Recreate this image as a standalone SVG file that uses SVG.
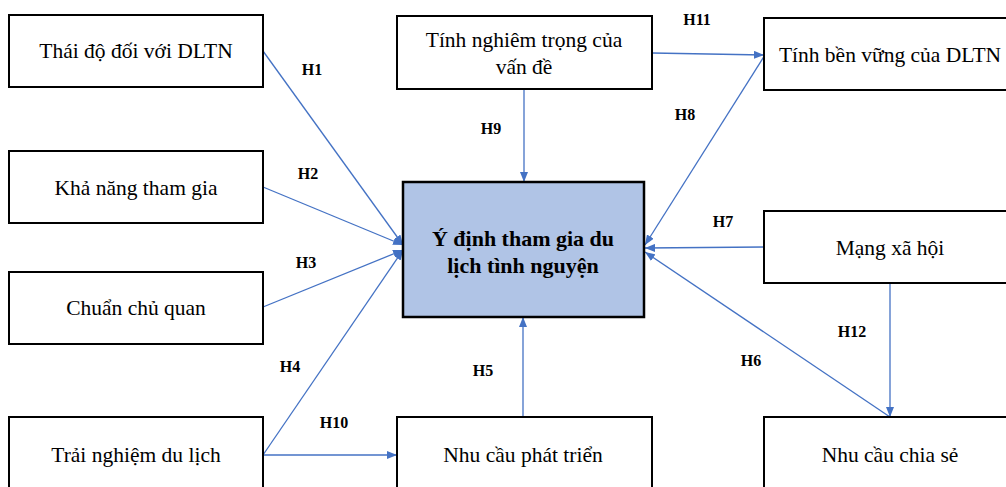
<svg xmlns="http://www.w3.org/2000/svg" width="1006" height="487" viewBox="0 0 1006 487">
<style>
.box{fill:#fff;stroke:#000;stroke-width:2}
.main{fill:#B0C4E6;stroke:#000;stroke-width:2.5}
.t{font-family:"Liberation Serif","Times New Roman",serif;font-size:21.5px;fill:#000;text-anchor:middle;dominant-baseline:central}
.tb{font-family:"Liberation Serif","Times New Roman",serif;font-size:22px;font-weight:bold;fill:#000;text-anchor:middle;dominant-baseline:central}
.lbl{font-family:"Liberation Serif","Times New Roman",serif;font-size:16px;font-weight:bold;fill:#000;text-anchor:middle;dominant-baseline:central}
.c{stroke:#4472C4;stroke-width:1.3;fill:none;marker-end:url(#ah)}
</style>
<defs>
<marker id="ah" markerWidth="10" markerHeight="8" refX="10" refY="4" orient="auto" markerUnits="userSpaceOnUse">
<path d="M0,0 L10,4 L0,8 z" fill="#4472C4"/>
</marker>
</defs>
<rect width="1006" height="487" fill="#fff"/>
<g id="connectors">
<line class="c" x1="263" y1="51" x2="403" y2="245"/>
<line class="c" x1="263" y1="187" x2="403" y2="245"/>
<line class="c" x1="263" y1="307" x2="403" y2="250"/>
<line class="c" x1="263" y1="455" x2="403" y2="250"/>
<line class="c" x1="263" y1="455" x2="397" y2="455"/>
<line class="c" x1="524" y1="89" x2="524" y2="182"/>
<line class="c" x1="523" y1="417" x2="523" y2="317"/>
<line class="c" x1="652" y1="53" x2="764" y2="55"/>
<line class="c" x1="765" y1="55" x2="645" y2="245"/>
<line class="c" x1="764" y1="247" x2="645" y2="248"/>
<line class="c" x1="890" y1="417" x2="645" y2="252"/>
<line class="c" x1="890" y1="283" x2="890" y2="417"/>
<text class="lbl" x="312" y="69">H1</text>
<text class="lbl" x="308" y="173">H2</text>
<text class="lbl" x="306" y="262">H3</text>
<text class="lbl" x="290" y="366">H4</text>
<text class="lbl" x="334" y="422">H10</text>
<text class="lbl" x="483" y="370">H5</text>
<text class="lbl" x="491" y="128">H9</text>
<text class="lbl" x="697" y="19">H11</text>
<text class="lbl" x="685" y="114">H8</text>
<text class="lbl" x="723" y="221">H7</text>
<text class="lbl" x="852" y="331">H12</text>
<text class="lbl" x="751" y="360">H6</text>
</g>
<g id="n1"><rect class="box" x="9" y="15" width="254" height="72"/><text class="t" x="136" y="51">Thái độ đối với DLTN</text></g>
<g id="n2"><rect class="box" x="9" y="151" width="254" height="72"/><text class="t" x="136" y="188">Khả năng tham gia</text></g>
<g id="n3"><rect class="box" x="9" y="272" width="254" height="72"/><text class="t" x="136" y="308">Chuẩn chủ quan</text></g>
<g id="n4"><rect class="box" x="9" y="417" width="254" height="80"/><text class="t" x="136" y="455">Trải nghiệm du lịch</text></g>
<g id="n5"><rect class="box" x="397" y="16" width="255" height="73"/><text class="t" x="524" y="40">Tính nghiêm trọng của</text><text class="t" x="524" y="67">vấn đề</text></g>
<g id="n6"><rect class="box" x="764" y="18" width="260" height="72"/><text class="t" x="890" y="55">Tính bền vững của DLTN</text></g>
<g id="center"><rect class="main" x="403" y="182" width="241" height="135"/><text class="tb" x="523" y="238">Ý định tham gia du</text><text class="tb" x="523" y="265">lịch tình nguyện</text></g>
<g id="n7"><rect class="box" x="764" y="211" width="260" height="72"/><text class="t" x="890" y="248">Mạng xã hội</text></g>
<g id="n8"><rect class="box" x="397" y="417" width="255" height="80"/><text class="t" x="523" y="455">Nhu cầu phát triển</text></g>
<g id="n9"><rect class="box" x="764" y="417" width="260" height="80"/><text class="t" x="890" y="455">Nhu cầu chia sẻ</text></g>
</svg>
